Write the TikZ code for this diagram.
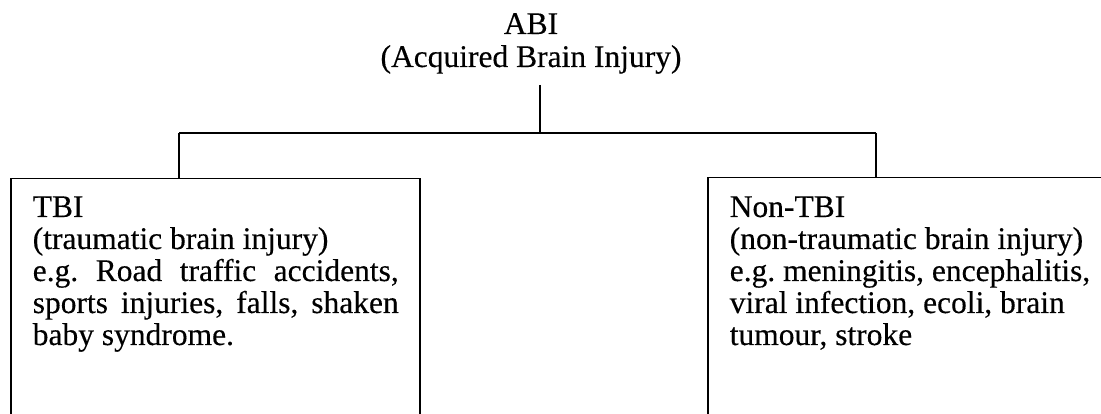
\documentclass[tikz,border=0pt]{standalone}
\usepackage{fontspec}
\setmainfont{Liberation Serif}[UprightFeatures={FakeBold=0.3}]
\frenchspacing
\begin{document}
\begin{tikzpicture}[x=1pt,y=-1pt,
  line width=1.5pt,
  label/.style={inner sep=0pt, anchor=base, font=\fontsize{31.5}{33}\selectfont},
  boxtext/.style={inner sep=0pt, anchor=base west, font=\fontsize{31.5}{32}\selectfont},
  catbox/.style={draw, line width=1.5pt, inner sep=0pt, anchor=north west,
    minimum width=409pt, minimum height=260pt}]
\useasboundingbox (0,0) rectangle (1101,414);
\fill[white] (0,0) rectangle (1101,414);

% root
\node[label] (abi) at (531,34) {ABI};
\node[label] (abifull) at (531,67) {(Acquired Brain Injury)};

% category boxes
\node[catbox] (tbi) at (10,178) {};
\node[catbox] (ntbi) at (707,177) {};

% box texts
\node[boxtext] (tbitext) at (32,217) {\begin{minipage}[t]{366pt}
TBI\\
(traumatic brain injury)\\
\makebox[\linewidth][s]{e.g. Road traffic accidents,}\\
\makebox[\linewidth][s]{sports injuries, falls, shaken}\\
baby syndrome.
\end{minipage}};
\node[boxtext] (ntbitext) at (729,217) {\begin{minipage}[t]{400pt}
\raggedright\hyphenpenalty=10000
Non-TBI\\
(non-traumatic brain injury)\\
e.g. meningitis, encephalitis,\\
viral infection, ecoli, brain\\
tumour, stroke
\end{minipage}};

% tree connectors
\coordinate (stem) at (540,85);
\coordinate (hub) at (540,133);
\coordinate (lbranch) at (179,133);
\coordinate (rbranch) at (876,133);
\draw (stem) -- (hub);
\draw (lbranch) -- (rbranch);
\draw (lbranch) -- (lbranch |- tbi.north);
\draw (rbranch) -- (rbranch |- ntbi.north);
\end{tikzpicture}
\end{document}
